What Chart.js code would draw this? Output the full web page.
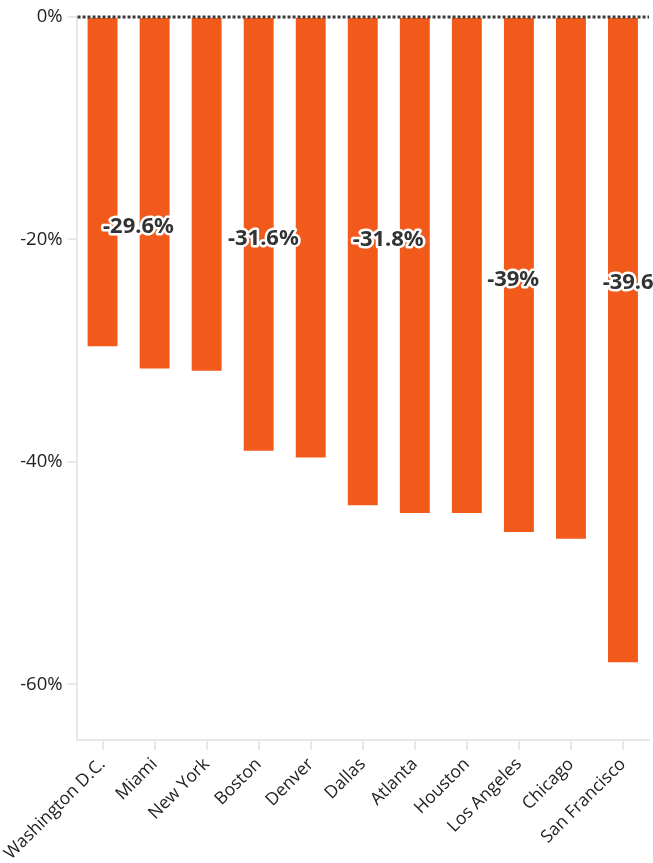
<!DOCTYPE html>
<html>
<head>
<meta charset="utf-8">
<script src="https://cdn.jsdelivr.net/npm/chart.js@4.4.0/dist/chart.umd.min.js"></script>
<style>
  html, body { margin: 0; padding: 0; background: #fff; }
  #wrap { width: 653px; height: 863px; position: relative; }
</style>
</head>
<body>
<div id="wrap"><canvas id="chart"></canvas></div>
<script>
// villes et baisses (%)
const cities = ['Washington D.C.', 'Miami', 'New York', 'Boston', 'Denver', 'Dallas',
  'Atlanta', 'Houston', 'Los Angeles', 'Chicago', 'San Francisco'];
const changes = [-29.6, -31.6, -31.8, -39.0, -39.6, -43.9, -44.6, -44.6, -46.3, -46.9, -58.0];

// étiquettes de valeurs affichées
const labelValues = [-29.6, -31.6, -31.8, -39, -39.6];

const yTicks = [0, -20, -40, -60];

const barColor = '#f15a1a';
const axisColor = '#e8e8e8';

// ligne pointillée à zéro + étiquettes
const overlayPlugin = {
  id: 'overlay',
  afterDatasetsDraw(chart) {
    const { ctx, chartArea, scales: { x, y } } = chart;
    const y0 = y.getPixelForValue(0);
    ctx.save();
    ctx.strokeStyle = '#3a3a3a';
    ctx.lineWidth = 3;
    ctx.setLineDash([3, 2]);
    ctx.beginPath();
    ctx.moveTo(chartArea.left + 1, y0);
    ctx.lineTo(chartArea.right, y0);
    ctx.stroke();
    ctx.setLineDash([]);

    ctx.font = 'bold 22px "Noto Sans"';
    ctx.textAlign = 'center';
    ctx.textBaseline = 'middle';
    ctx.lineJoin = 'round';
    labelValues.forEach((v, i) => {
      const px = x.getPixelForValue(0.69 + 2.4 * i);
      const py = y.getPixelForValue(v / 2 - 4.1);
      const txt = v + '%';
      ctx.strokeStyle = '#fff';
      ctx.lineWidth = 5;
      ctx.strokeText(txt, px, py);
      ctx.fillStyle = '#333';
      ctx.fillText(txt, px, py);
    });
    ctx.restore();
  }
};

new Chart(document.getElementById('chart'), {
  type: 'bar',
  data: {
    labels: cities,
    datasets: [{
      data: changes,
      backgroundColor: barColor,
      borderWidth: 0,
      barPercentage: 0.575,
      categoryPercentage: 1
    }]
  },
  options: {
    responsive: true,
    maintainAspectRatio: false,
    animation: false,
    layout: { padding: { top: 17, right: 4, left: 0, bottom: 0 } },
    plugins: {
      legend: { display: false },
      tooltip: { enabled: false }
    },
    scales: {
      x: {
        grid: { display: true, offset: false, drawOnChartArea: false, drawTicks: true, tickLength: 10, color: axisColor, lineWidth: 2 },
        border: { color: axisColor, width: 2 },
        ticks: {
          color: '#222',
          font: { family: '"Open Sans"', size: 17.5 },
          maxRotation: 45,
          minRotation: 45,
          padding: 4
        },
        afterFit(scale) { scale.height = 123; }
      },
      y: {
        min: -65,
        max: 0,
        afterBuildTicks(scale) { scale.ticks = yTicks.map(v => ({ value: v })); },
        grid: { display: true, drawOnChartArea: false, drawTicks: true, tickLength: 9, color: axisColor, lineWidth: 2 },
        border: { color: axisColor, width: 2 },
        ticks: {
          color: '#222',
          font: { family: '"Open Sans"', size: 18.5 },
          padding: 5,
          callback: v => v + '%'
        },
        afterFit(scale) { scale.width = 75; }
      }
    }
  },
  plugins: [overlayPlugin]
});
</script>
</body>
</html>
